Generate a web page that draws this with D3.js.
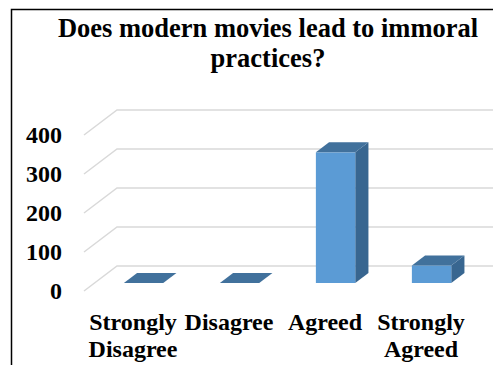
<!DOCTYPE html>
<html>
<head>
<meta charset="utf-8">
<script src="https://cdn.jsdelivr.net/npm/d3@7/dist/d3.min.js"></script>
<style>
  html, body { margin: 0; padding: 0; background: #fff; }
  svg { display: block; }
  text { font-family: "Liberation Serif", "Times New Roman", serif; font-weight: bold; fill: #000; }
</style>
</head>
<body>
<svg id="chart" width="493" height="365"></svg>
<script>
// Survey responses
const categories = ["Strongly Disagree", "Disagree", "Agreed", "Strongly Agreed"];
const responses = [0, 0, 335, 45];
const yTicks = [0, 100, 200, 300, 400];
const titleLines = ["Does modern movies lead to immoral", "practices?"];

const svg = d3.select("#chart");
const W = 493, H = 365;

// 3-D floor depth: back wall sits up and to the right of the front plane
const depth = { dx: 33, dy: -25 };
const barFrontFrac = 0.32, barBackFrac = 0.72;

// value scale on the back wall
const yBack = d3.scaleLinear().domain([0, 400]).range([266, 110]);
// value scale on the front plane (where tick labels sit)
const yFront = d3.scaleLinear().domain([0, 400]).range([266 - depth.dy, 110 - depth.dy]);

// category scale on the front plane
const xFront = d3.scaleBand().domain(categories).range([85, 469])
  .paddingInner(0.59).paddingOuter(0.295);

// outer frame
svg.append("rect")
  .attr("x", 11.5).attr("y", 9.5)
  .attr("width", W + 20).attr("height", H + 20)
  .attr("fill", "none").attr("stroke", "#000").attr("stroke-width", 1.5);

// title
svg.append("text")
  .attr("text-anchor", "middle")
  .attr("font-size", 26.5)
  .selectAll("tspan").data(titleLines).join("tspan")
  .attr("x", 268).attr("y", (d, i) => 37 + i * 30)
  .text(d => d);

// gridlines: back-wall horizontal plus floor diagonal
const xBackLeft = xFront.range()[0] - 1 + depth.dx;
const grid = svg.append("g").attr("stroke", "#d9d9d9").attr("stroke-width", 1.5).attr("fill", "none");
yTicks.forEach(t => {
  const yb = yBack(t);
  grid.append("path")
    .attr("d", `M${xBackLeft - depth.dx},${yb - depth.dy} L${xBackLeft},${yb} L${W + 10},${yb}`);
});

// y axis labels (front plane)
const yAxis = d3.axisLeft(yFront).tickValues(yTicks).tickSize(0).tickPadding(8).tickFormat(d3.format("d"));
const gy = svg.append("g").attr("transform", "translate(70,0)").call(yAxis);
gy.select(".domain").remove();
gy.selectAll("text").attr("font-size", 24).attr("font-family", null).attr("fill", "#000");

// 3-D bars
const faceFront = "#5b9bd5", faceTop = "#41719c", faceSide = "#386690";
const fx = barFrontFrac * depth.dx;
const bdx = (barBackFrac - barFrontFrac) * depth.dx, bdy = (barBackFrac - barFrontFrac) * depth.dy;
const yBar = v => yBack(v) - depth.dy * (1 - barFrontFrac);

const bars = svg.append("g").selectAll("g").data(categories).join("g");
bars.each(function (c, i) {
  const g = d3.select(this);
  const x0 = xFront(c) + fx, x1 = x0 + xFront.bandwidth();
  const y0 = yBar(0), y1 = yBar(responses[i]);
  // side face
  g.append("path")
    .attr("d", `M${x1},${y1} L${x1 + bdx},${y1 + bdy} L${x1 + bdx},${y0 + bdy} L${x1},${y0} Z`)
    .attr("fill", faceSide);
  // front face
  if (y0 - y1 > 0) {
    g.append("rect").attr("x", x0).attr("y", y1)
      .attr("width", x1 - x0).attr("height", y0 - y1).attr("fill", faceFront);
  }
  // top face
  g.append("path")
    .attr("d", `M${x0},${y1} L${x0 + bdx},${y1 + bdy} L${x1 + bdx},${y1 + bdy} L${x1},${y1} Z`)
    .attr("fill", faceTop);
});

// category labels (front plane), split over two lines
const xAxis = d3.axisBottom(xFront).tickSize(0);
const gx = svg.append("g").call(xAxis);
gx.select(".domain").remove();
gx.selectAll("text").each(function (d) {
  const t = d3.select(this).attr("font-size", 24).attr("font-family", null)
    .attr("fill", "#000").attr("y", null).attr("dy", null).text(null);
  d.split(" ").forEach((w, k) => {
    t.append("tspan").attr("x", 0).attr("y", 330 + k * 27).text(w);
  });
});
</script>
</body>
</html>
